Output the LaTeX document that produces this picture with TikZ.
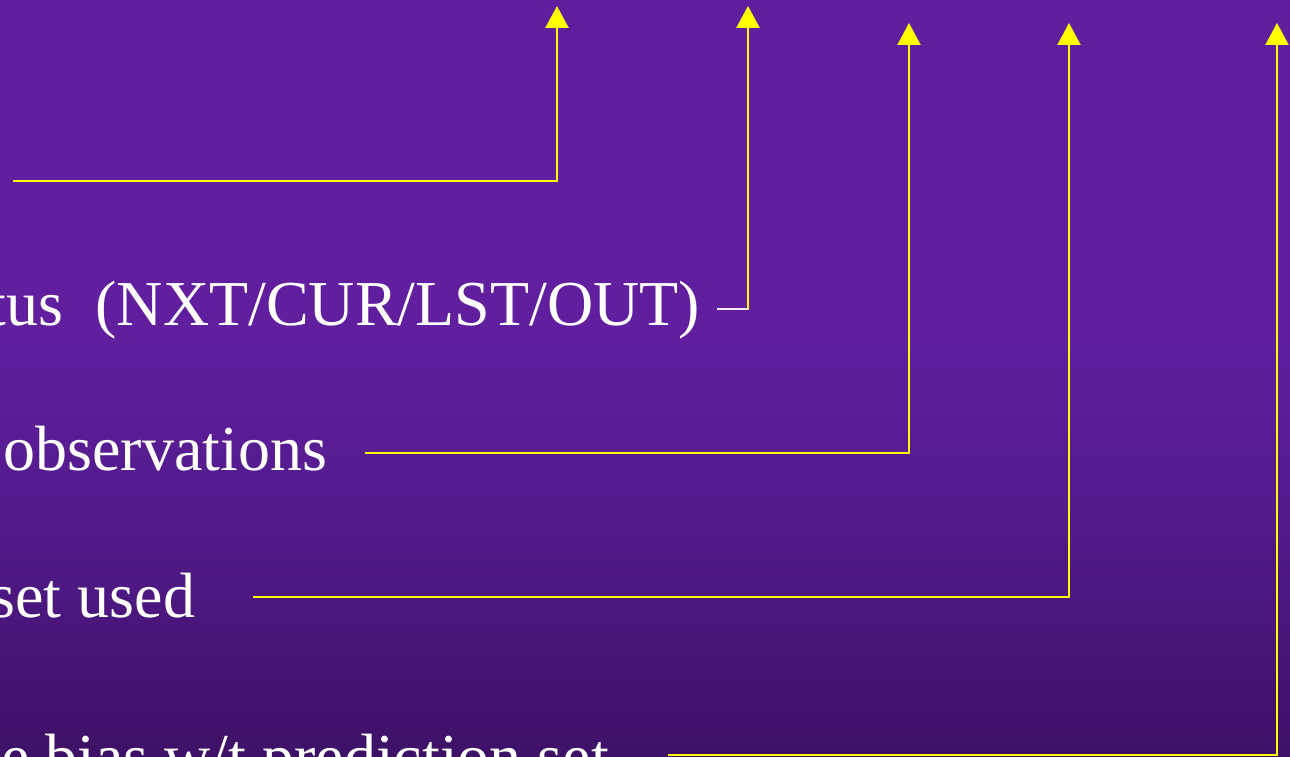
\documentclass[tikz,border=0pt]{standalone}
\usepackage{fontspec}
\setmainfont{Liberation Serif}
\usetikzlibrary{arrows.meta,calc}
\definecolor{bgtop}{RGB}{97,31,160}
\definecolor{bgmid}{RGB}{82,26,138}
\definecolor{bgbot}{RGB}{62,17,103}
\definecolor{lineyellow}{RGB}{255,255,0}
\pgfdeclareverticalshading{bgshade}{100bp}{color(0bp)=(bgbot); color(25bp)=(bgbot); color(40bp)=(bgmid); color(53bp)=(bgtop); color(100bp)=(bgtop)}
\tikzset{
  lbl/.style={inner sep=0pt, outer sep=0pt, text=white, anchor=base east,
    font=\fontsize{64}{64}\selectfont},
  conn/.style={draw=lineyellow, line width=2.5pt,
    -{Triangle[width=23pt,length=22pt]}},
  stub/.style={draw=white!92!violet, line width=2.5pt}
}
\begin{document}
\begin{tikzpicture}[x=1pt,y=-1pt]
\useasboundingbox (0,0) rectangle (1290,757);
\clip (0,0) rectangle (1290,757);
\shade[shading=bgshade] (0,0) rectangle (1290,757);

% labels
\node[lbl] (st)   at (700,325) {tus\ \ (NXT/CUR/LST/OUT)};
\node[lbl] (obs)  at (327,470) {observations};
\node[lbl] (su)   at (195,617) {set used};
\node[lbl] (bias) at (609,778) {e bias w/t prediction set};

% connectors
\coordinate (s1) at (13,181);
\coordinate (t1) at (557,6);
\draw[conn] (s1) -| (t1);

\coordinate (c2) at ($(st.base east)+(48,-16)$);
\draw[stub] ($(st.base east)+(17,-16)$) -- ($(c2)+(1,0)$);
\draw[conn] (c2) -- (748,6);

\draw[conn] ($(obs.base east)+(38,-17)$) -| (909,23);
\draw[conn] ($(su.base east)+(58,-20)$) -| (1069,23);
\draw[conn] ($(bias.base east)+(59,-23)$) -| (1277,23);
\end{tikzpicture}
\end{document}
